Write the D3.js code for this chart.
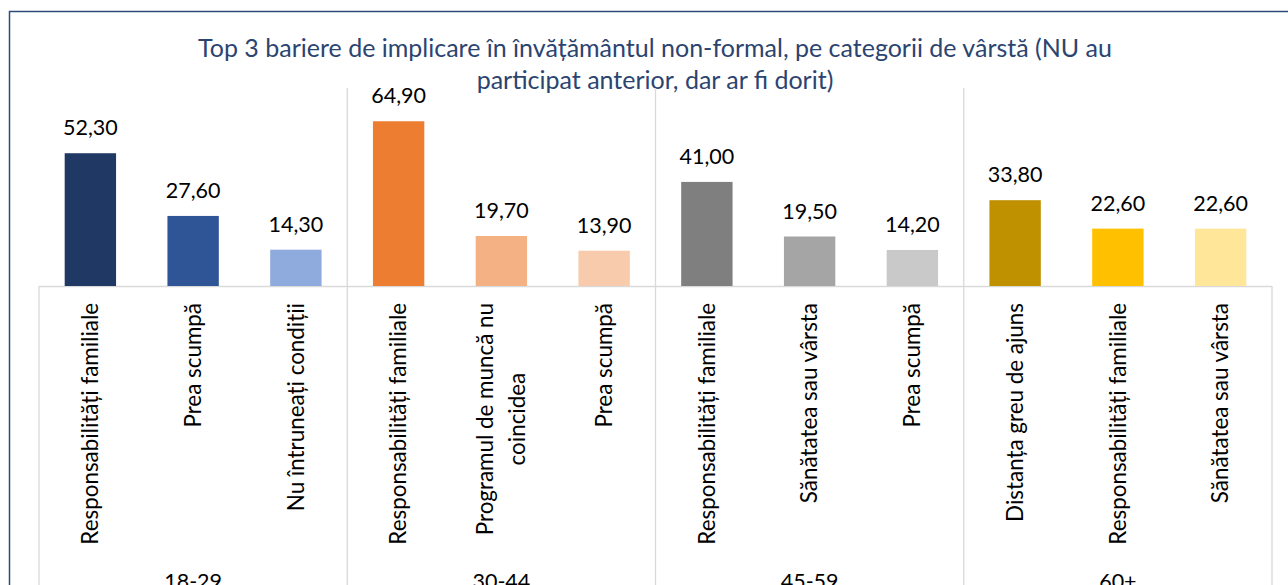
<!DOCTYPE html>
<html>
<head>
<meta charset="utf-8">
<script src="https://cdn.jsdelivr.net/npm/d3@7"></script>
<style>
  body { margin: 0; background: #fff; }
  svg { display: block; font-family: Lato, "Open Sans", sans-serif; }
</style>
</head>
<body>
<div id="chart"></div>
<script>
// grouped bars: top 3 barriers per age group

const FRAME_WIDTH = 1288;
const FRAME_HEIGHT = 585;

const GROUPS = ["18-29", "30-44", "45-59", "60+"];
const CATEGORIES = [
  ["Responsabilități familiale", "Prea scumpă", "Nu întruneați condiții"],
  ["Responsabilități familiale", "Programul de muncă nu|coincidea", "Prea scumpă"],
  ["Responsabilități familiale", "Sănătatea sau vârsta", "Prea scumpă"],
  ["Distanța greu de ajuns", "Responsabilități familiale", "Sănătatea sau vârsta"]
];
const VALUES = [
  [52.3, 27.6, 14.3],
  [64.9, 19.7, 13.9],
  [41.0, 19.5, 14.2],
  [33.8, 22.6, 22.6]
];
const COLORS = [
  ["#203864", "#2F5597", "#8FAADC"],
  ["#ED7D31", "#F4B183", "#F8CBAD"],
  ["#7F7F7F", "#A5A5A5", "#C9C9C9"],
  ["#BF9000", "#FFC000", "#FFE699"]
];
const TITLE = [
  "Top 3 bariere de implicare în învățământul non-formal, pe categorii de vârstă (NU au",
  "participat anterior, dar ar fi dorit)"
];

const PLOT = {left: 39, right: 1272, top: 88, base: 286};
const LABEL_TOP = 303;

// flatten to one row per bar
const data = [];
GROUPS.forEach((g, i) => {
  CATEGORIES[i].forEach((c, j) => {
    data.push({group: g, gi: i, label: c, value: VALUES[i][j], color: COLORS[i][j], key: g + "|" + j});
  });
});

const svg = d3.select("#chart")
  .append("svg")
    .attr("width", FRAME_WIDTH)
    .attr("height", FRAME_HEIGHT);

// outer chart border (cut off on right and bottom)
svg.append("rect")
  .attr("x", 9.5)
  .attr("y", 11.5)
  .attr("width", 1400)
  .attr("height", 700)
  .attr("fill", "#fff")
  .attr("stroke", "#2F4B7C")
  .attr("stroke-width", 1.5);

const X_GROUP = d3.scaleBand()
  .domain(GROUPS)
  .range([PLOT.left, PLOT.right]);

const X_SCALE = d3.scaleBand()
  .domain(data.map(d => d.key))
  .range([PLOT.left, PLOT.right])
  .paddingInner(0.5)
  .paddingOuter(0.25);

const Y_SCALE = d3.scaleLinear()
  .domain([0, 78])
  .range([PLOT.base, PLOT.top]);

// title
svg.append("g")
  .selectAll("text")
  .data(TITLE)
  .enter()
  .append("text")
    .attr("x", 655)
    .attr("y", (d, i) => 57 + i * 31.5)
    .attr("text-anchor", "middle")
    .attr("font-size", "25px")
    .attr("fill", "#2C4470")
    .text(d => d);

// axis frame lines
const GRID = "#D9D9D9";
const grid = svg.append("g")
  .attr("stroke", GRID)
  .attr("stroke-width", 1.3);

grid.append("line")
  .attr("x1", PLOT.left).attr("x2", PLOT.right)
  .attr("y1", PLOT.base + 0.5).attr("y2", PLOT.base + 0.5);

GROUPS.forEach((g, i) => {
  const x = X_GROUP(g);
  grid.append("line")
    .attr("x1", x).attr("x2", x)
    .attr("y1", i === 0 ? PLOT.base : PLOT.top)
    .attr("y2", FRAME_HEIGHT + 10);
});
grid.append("line")
  .attr("x1", PLOT.right).attr("x2", PLOT.right)
  .attr("y1", PLOT.base).attr("y2", FRAME_HEIGHT + 10);

// bars
svg.selectAll(".bar")
  .data(data)
  .enter()
  .append("rect")
    .attr("class", "bar")
    .attr("x", d => X_SCALE(d.key))
    .attr("y", d => Y_SCALE(d.value))
    .attr("width", X_SCALE.bandwidth())
    .attr("height", d => PLOT.base - Y_SCALE(d.value))
    .attr("fill", d => d.color);

// value labels
svg.selectAll(".val")
  .data(data)
  .enter()
  .append("text")
    .attr("class", "val")
    .attr("x", d => X_SCALE(d.key) + X_SCALE.bandwidth() / 2)
    .attr("y", d => Y_SCALE(d.value) - 18)
    .attr("text-anchor", "middle")
    .attr("font-size", "21.5px")
    .attr("fill", "#000")
    .text(d => d3.format(".2f")(d.value).replace(".", ","));

// rotated category labels, lines centred on each other, block top-aligned
const cat = svg.selectAll(".cat")
  .data(data)
  .enter()
  .append("g")
    .attr("class", "cat")
    .attr("transform", d => "translate(" + (X_SCALE(d.key) + X_SCALE.bandwidth() / 2) + "," + LABEL_TOP + ") rotate(-90)");

cat.each(function(d) {
  const lines = d.label.split("|");
  const n = lines.length;
  const texts = d3.select(this).selectAll("text")
    .data(lines)
    .enter()
    .append("text")
      .attr("y", (l, i) => (i - (n - 1) / 2) * 32)
      .attr("dy", "0.35em")
      .attr("text-anchor", "middle")
      .attr("font-size", "22.4px")
      .attr("fill", "#000")
      .text(l => l);
  let maxLen = 0;
  texts.each(function() { maxLen = Math.max(maxLen, this.getComputedTextLength()); });
  texts.attr("x", -maxLen / 2);
});

// group labels
svg.selectAll(".grp")
  .data(GROUPS)
  .enter()
  .append("text")
    .attr("class", "grp")
    .attr("x", d => X_GROUP(d) + X_GROUP.bandwidth() / 2)
    .attr("y", 589)
    .attr("text-anchor", "middle")
    .attr("font-size", "21.5px")
    .attr("fill", "#000")
    .text(d => d);
</script>
</body>
</html>
